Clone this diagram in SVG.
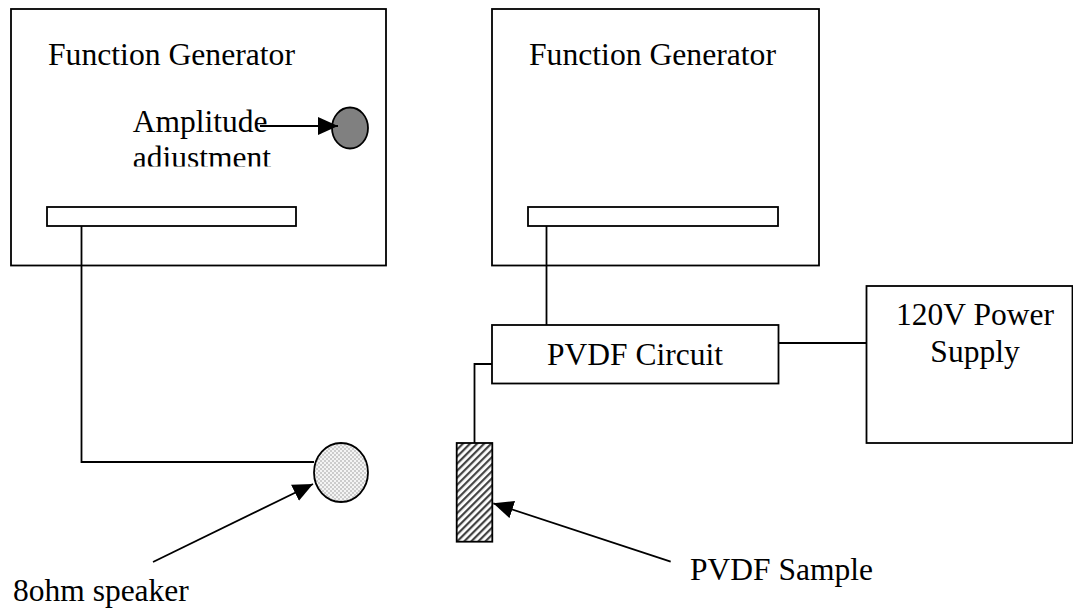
<svg xmlns="http://www.w3.org/2000/svg" width="1073" height="610" viewBox="0 0 1073 610">
<style>
.box{fill:#fff;stroke:#000;stroke-width:1.8}
.ln{fill:none;stroke:#000;stroke-width:1.8}
.t{font-family:"Liberation Serif","Times New Roman",serif;font-size:31.5px;fill:#000}
</style>
<defs>
<marker id="ah" viewBox="0 0 20 18" refX="20" refY="9" markerWidth="20" markerHeight="18" orient="auto" markerUnits="userSpaceOnUse">
<path d="M0,0 L20,9 L0,18 Z" fill="#000"/>
</marker>
<pattern id="dots" width="4" height="4" patternUnits="userSpaceOnUse">
<rect width="4" height="4" fill="#f4f4f4"/>
<circle cx="1" cy="1" r="0.8" fill="#9a9a9a"/>
<circle cx="3" cy="3" r="0.8" fill="#9a9a9a"/>
</pattern>
<pattern id="hatch" width="5" height="5" patternUnits="userSpaceOnUse" patternTransform="rotate(45)">
<rect width="5" height="5" fill="#fff"/>
<rect x="0" y="0" width="2.2" height="5" fill="#444"/>
</pattern>
<clipPath id="clipAmp"><rect x="0" y="0" width="400" height="166.5"/></clipPath>
</defs>

<g id="fg-left">
<rect class="box" x="11" y="9" width="375" height="256.5"/>
<text class="t" x="48" y="65" textLength="247" lengthAdjust="spacingAndGlyphs">Function Generator</text>
<rect class="box" x="47" y="207" width="249" height="19"/>
</g>

<g id="amp-knob">
<ellipse cx="350" cy="128" rx="18" ry="20.5" fill="#808080" stroke="#000" stroke-width="1.8"/>
</g>

<g id="amp-label" clip-path="url(#clipAmp)">
<text class="t" x="132.7" y="131.7">Amplitude</text>
<text class="t" x="132.7" y="168">adiustment</text>
</g>

<g id="fg-right">
<rect class="box" x="492" y="9" width="327" height="256.5"/>
<text class="t" x="529" y="65" textLength="247" lengthAdjust="spacingAndGlyphs">Function Generator</text>
<rect class="box" x="528" y="207" width="250" height="19"/>
</g>

<g id="pvdf-circuit">
<rect class="box" x="492" y="325" width="286.5" height="58.5"/>
<text class="t" x="635" y="365" text-anchor="middle">PVDF Circuit</text>
</g>

<g id="power-supply">
<rect class="box" x="866.5" y="286" width="206" height="157"/>
<text class="t" x="975" y="325" text-anchor="middle">120V Power</text>
<text class="t" x="975" y="361.5" text-anchor="middle">Supply</text>
</g>

<g id="speaker">
<ellipse cx="341" cy="472.5" rx="27" ry="29.5" fill="url(#dots)" stroke="#000" stroke-width="1.8"/>
</g>

<g id="pvdf-sample">
<rect x="456.7" y="443" width="35.6" height="98.7" fill="url(#hatch)" stroke="#000" stroke-width="1.8"/>
</g>

<g id="labels">
<text class="t" x="13" y="601">8ohm speaker</text>
<text class="t" x="690" y="580">PVDF Sample</text>
</g>

<g id="connectors">
<path class="ln" d="M81.5,226 V462 H314"/>
<path class="ln" d="M546.5,226 V325"/>
<path class="ln" d="M778.5,343 H866.5"/>
<path class="ln" d="M492,364 H474.5 V443"/>
<line class="ln" x1="260" y1="126" x2="338" y2="126" marker-end="url(#ah)"/>
<line class="ln" x1="153" y1="562" x2="313" y2="484" marker-end="url(#ah)"/>
<line class="ln" x1="670.7" y1="561.7" x2="493.3" y2="503.3" marker-end="url(#ah)"/>
</g>
</svg>
